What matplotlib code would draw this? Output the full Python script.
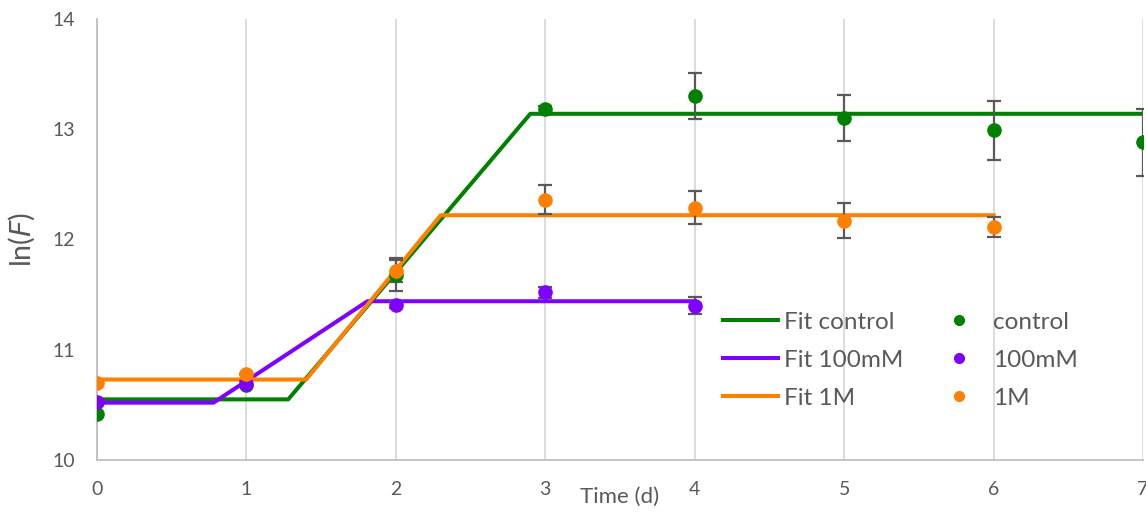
import matplotlib
matplotlib.use("Agg")
import matplotlib.pyplot as plt
from matplotlib.lines import Line2D

# Measured data
days = [0, 1, 2, 3, 4, 5, 6, 7]
control = [10.42, 10.68, 11.68, 13.18, 13.30, 13.10, 12.99, 12.88]
control_err = [0.0, 0.0, 0.15, 0.03, 0.21, 0.21, 0.27, 0.30]

days_100mM = [0, 1, 2, 3, 4]
mM100 = [10.53, 10.69, 11.41, 11.52, 11.40]
mM100_err = [0.0, 0.03, 0.03, 0.05, 0.08]

days_1M = [0, 1, 2, 3, 4, 5, 6]
M1 = [10.70, 10.78, 11.71, 12.36, 12.29, 12.17, 12.11]
M1_err = [0.0, 0.0, 0.10, 0.13, 0.15, 0.16, 0.09]

# Fit curves (piecewise: lag, growth, plateau)
fit_control_x = [0, 1.28, 2.90, 7]
fit_control_y = [10.55, 10.55, 13.14, 13.14]
fit_100mM_x = [0, 0.78, 1.81, 4]
fit_100mM_y = [10.52, 10.52, 11.44, 11.44]
fit_1M_x = [0, 1.40, 2.30, 6]
fit_1M_y = [10.73, 10.73, 12.22, 12.22]

c_green = "#008000"
c_purple = "#7F00FF"
c_orange = "#FF8000"
c_text = "#595959"

plt.rcParams['font.family'] = ['Lato', 'DejaVu Sans']

fig = plt.figure(figsize=(11.46, 5.13), dpi=100)
ax = fig.add_axes([0.0846, 0.1033, 0.9128, 0.8597])

lw = 2.9
l1, = ax.plot(fit_control_x, fit_control_y, color=c_green, lw=lw, solid_joinstyle='round', zorder=2)
l2, = ax.plot(fit_100mM_x, fit_100mM_y, color=c_purple, lw=lw, solid_joinstyle='round', zorder=2)
l3, = ax.plot(fit_1M_x, fit_1M_y, color=c_orange, lw=lw, solid_joinstyle='round', zorder=2)

ms = 9.5
ekw = dict(ecolor=c_text, elinewidth=1.6, capsize=5, capthick=1.6, linestyle='none', zorder=3)
ax.errorbar(days, control, yerr=control_err, marker='o', ms=ms, color=c_green, mec=c_green, **ekw)
ax.errorbar(days_100mM, mM100, yerr=mM100_err, marker='o', ms=ms, color=c_purple, mec=c_purple, **ekw)
ax.errorbar(days_1M, M1, yerr=M1_err, marker='o', ms=ms, color=c_orange, mec=c_orange, **ekw)

p1 = Line2D([], [], marker='o', ls='none', color=c_green, ms=7)
p2 = Line2D([], [], marker='o', ls='none', color=c_purple, ms=7)
p3 = Line2D([], [], marker='o', ls='none', color=c_orange, ms=7)

leg = ax.legend([l1, l2, l3, p1, p2, p3],
                ["Fit control", "Fit 100mM", "Fit 1M", "control", "100mM", "1M"],
                ncol=2, frameon=False, loc='upper left', bbox_to_anchor=(0.598, 0.336),
                fontsize=17.5, handlelength=2.3, handletextpad=0.25, columnspacing=1.1,
                labelspacing=0.70, borderpad=0.0, borderaxespad=0.0)
for t in leg.get_texts():
    t.set_color(c_text)

ax.set_xlim(0, 7)
ax.set_ylim(10, 14)
ax.set_xticks(range(0, 8))
ax.set_yticks([10, 11, 12, 13, 14])
ax.grid(axis='x', color='#D9D9D9', lw=1.3)
ax.set_axisbelow(True)
ax.tick_params(length=0, labelsize=14, colors=c_text)
ax.tick_params(axis='x', pad=15)
ax.tick_params(axis='y', pad=16)
for s in ['top', 'right']:
    ax.spines[s].set_visible(False)
for s in ['left', 'bottom']:
    ax.spines[s].set_color('#BFBFBF')
    ax.spines[s].set_linewidth(1.3)

ax.set_xlabel("Time (d)", fontsize=16, color=c_text, labelpad=-8)
ax.set_ylabel("ln($F$)", fontsize=20.5, color=c_text, labelpad=11)

fig.savefig("out.png", dpi=100)
